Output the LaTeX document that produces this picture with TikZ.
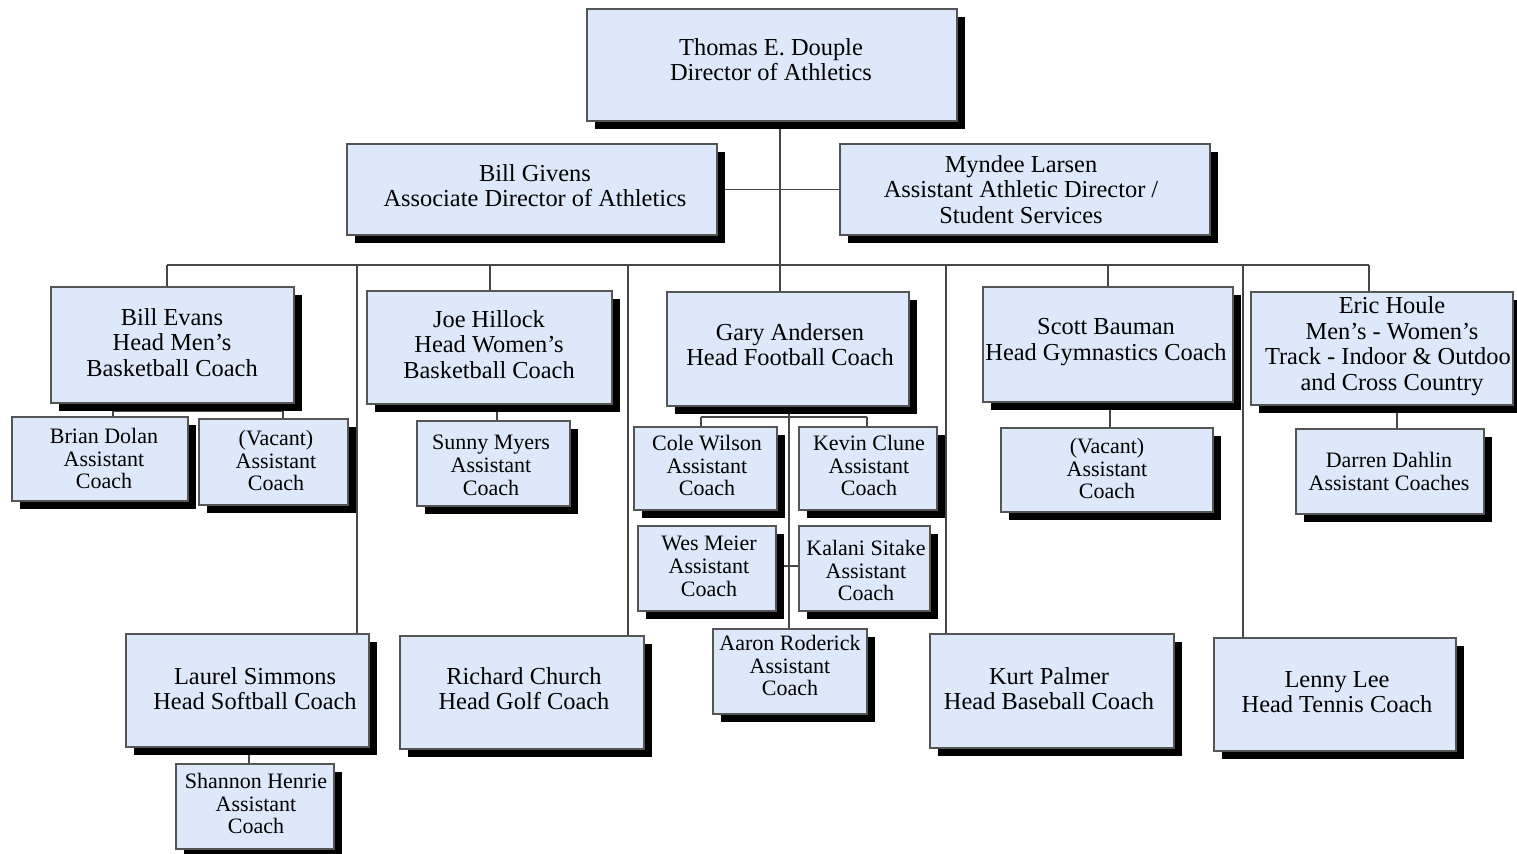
\documentclass[tikz,border=0pt]{standalone}
\usepackage{fontspec}
\setmainfont{Liberation Serif}
\usetikzlibrary{shadows}
\pgfdeclarelayer{bg}
\pgfsetlayers{bg,main}
\definecolor{boxfill}{RGB}{221,232,250}
\definecolor{boxline}{RGB}{85,85,85}
\definecolor{connline}{RGB}{70,70,70}
\tikzset{
  box/.style={draw=boxline, line width=0.55pt, fill=boxfill, inner sep=0pt,
    drop shadow={shadow xshift=4pt, shadow yshift=-4pt, fill=black, opacity=1}},
  txt/.style={inner sep=0pt, align=center, anchor=north},
  big/.style={font=\fontsize{12.2}{12.6}\selectfont},
  small/.style={font=\fontsize{11}{11.3}\selectfont},
  conn/.style={draw=connline, line width=0.55pt},
}
% #1 text style, #2 name, #3 x1, #4 y1, #5 x2, #6 y2, #7 text x, #8 text top y, #9 text
\newcommand\orgbox[9][big]{%
  \pgfmathsetlengthmacro\bxw{(#5-#3)*0.5pt}%
  \pgfmathsetlengthmacro\bxh{(#6-#4)*0.5pt}%
  \node[box, minimum width=\bxw, minimum height=\bxh] (#2) at ({(#3+#5)/2},{(#4+#6)/2}) {};%
  \node[txt, #1] (#2-t) at (#7,#8) {#9};%
}
\begin{document}
\begin{tikzpicture}[x=0.5pt, y=-0.5pt]
\useasboundingbox (0,0) rectangle (1517,854);

\orgbox{douple}{587}{9}{957}{121}{771}{38.4}{Thomas E. Douple\\Director of Athletics}
\orgbox{givens}{347}{144}{717}{235}{535}{164.4}{Bill Givens\\Associate Director of Athletics}
\orgbox{larsen}{840}{144}{1210}{235}{1021}{155.4}{Myndee Larsen\\Assistant Athletic Director /\\Student Services}

\orgbox{evans}{51}{287}{294}{403}{172}{308.4}{Bill Evans\\Head Men’s\\Basketball Coach}
\orgbox[small]{dolan}{12}{417}{188}{501}{104}{428}{Brian Dolan\\Assistant\\Coach}
\orgbox[small]{vacanta}{199}{419}{348}{505}{276}{430}{(Vacant)\\Assistant\\Coach}

\orgbox{hillock}{367}{291}{612}{404}{489}{310.4}{Joe Hillock\\Head Women’s\\Basketball Coach}
\orgbox[small]{myers}{417}{421}{570}{506}{491}{435}{Sunny Myers\\Assistant\\Coach}

\orgbox{andersen}{667}{292}{909}{406}{790}{323.4}{Gary Andersen\\Head Football Coach}
\orgbox[small]{wilson}{634}{427}{777}{510}{707}{435}{Cole Wilson\\Assistant\\Coach}
\orgbox[small]{clune}{799}{427}{937}{510}{869}{435}{Kevin Clune\\Assistant\\Coach}
\orgbox[small]{meier}{638}{526}{776}{611}{709}{536}{Wes Meier\\Assistant\\Coach}
\orgbox[small]{sitake}{799}{526}{930}{611}{866}{540}{Kalani Sitake\\Assistant\\Coach}
\orgbox[small]{roderick}{713}{629}{867}{714}{790}{635}{Aaron Roderick\\Assistant\\Coach}

\orgbox{bauman}{983}{287}{1233}{402}{1106}{318.4}{Scott Bauman\\Head Gymnastics Coach}
\orgbox[small]{vacantb}{1001}{428}{1213}{512}{1107}{438}{(Vacant)\\Assistant\\Coach}

\orgbox[big,font=\fontsize{12.2}{12.8}\selectfont]{houle}{1251}{292}{1513}{405}{1392}{296.4}{Eric Houle\\Men’s - Women’s\\Track - Indoor \& Outdoo\phantom{r}\\and Cross Country}
\orgbox[small]{dahlin}{1296}{429}{1484}{514}{1389}{452}{Darren Dahlin\\Assistant Coaches}

\orgbox{simmons}{126}{634}{369}{747}{255}{667.4}{Laurel Simmons\\Head Softball Coach}
\orgbox[small]{henrie}{176}{764}{334}{849}{256}{773}{Shannon Henrie\\Assistant\\Coach}
\orgbox{church}{400}{636}{644}{749}{524}{667.4}{Richard Church\\Head Golf Coach}
\orgbox{palmer}{930}{634}{1174}{748}{1049}{667.4}{Kurt Palmer\\Head Baseball Coach}
\orgbox{lee}{1214}{638}{1456}{751}{1337}{671.4}{Lenny Lee\\Head Tennis Coach}

\begin{pgfonlayer}{bg}
  % top level
  \coordinate (bus0) at (780,265);
  \coordinate (busL) at (167,265);
  \coordinate (busR) at (1369,265);
  \draw[conn] (douple.south -| bus0) -- (bus0);
  \draw[conn] (givens.east) -- (larsen.west);
  \draw[conn] (busL) -- (busR);
  % drops from the bus
  \coordinate (tapa) at (357,265);
  \coordinate (tapb) at (490,265);
  \coordinate (tapc) at (628,265);
  \coordinate (tapd) at (946,265);
  \coordinate (tape) at (1108,265);
  \coordinate (tapf) at (1243,265);
  \draw[conn] (busL) -- (evans.north -| busL);
  \draw[conn] (tapa) -- (simmons.north -| tapa);
  \draw[conn] (tapb) -- (hillock.north -| tapb);
  \draw[conn] (tapc) -- (church.north -| tapc);
  \draw[conn] (bus0) -- (andersen.north -| bus0);
  \draw[conn] (tapd) -- (palmer.north -| tapd);
  \draw[conn] (tape) -- (bauman.north -| tape);
  \draw[conn] (tapf) -- (lee.north -| tapf);
  \draw[conn] (busR) -- (houle.north -| busR);
  % Evans
  \coordinate (evj) at (200,411);
  \coordinate (evl) at (113,411);
  \coordinate (evr) at (283,411);
  \draw[conn] (evans.south -| evj) -- (evj);
  \draw[conn] (evl) -- (evr);
  \draw[conn] (evl) -- (dolan.north -| evl);
  \draw[conn] (evr) -- (vacanta.north -| evr);
  % Hillock
  \coordinate (hmj) at (497,412);
  \draw[conn] (hillock.south -| hmj) -- (myers.north -| hmj);
  % Andersen
  \coordinate (anj) at (789,417);
  \coordinate (anl) at (701,417);
  \coordinate (anr) at (867,417);
  \coordinate (anm) at (789,566);
  \draw[conn] (andersen.south -| anj) -- (roderick.north -| anj);
  \draw[conn] (anl) -- (anr);
  \draw[conn] (anl) -- (wilson.north -| anl);
  \draw[conn] (anr) -- (clune.north -| anr);
  \draw[conn] (meier.east |- anm) -- (sitake.west |- anm);
  % Bauman
  \coordinate (bmj) at (1110,415);
  \draw[conn] (bauman.south -| bmj) -- (vacantb.north -| bmj);
  % Houle
  \coordinate (hoj) at (1397,417);
  \draw[conn] (houle.south -| hoj) -- (dahlin.north -| hoj);
  % Simmons
  \coordinate (smj) at (249,755);
  \draw[conn] (simmons.south -| smj) -- (henrie.north -| smj);
\end{pgfonlayer}
\end{tikzpicture}
\end{document}
